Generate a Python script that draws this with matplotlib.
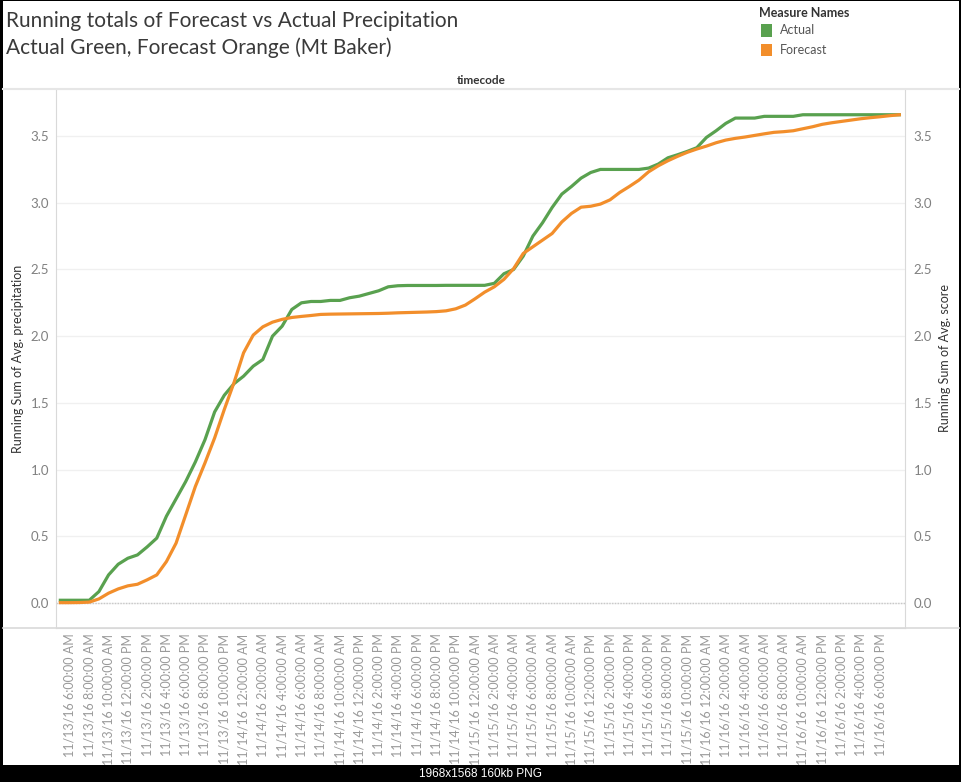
import numpy as np
import pandas as pd
import matplotlib
matplotlib.use("Agg")
import matplotlib.pyplot as plt
import matplotlib.dates as mdates
from matplotlib.patches import Rectangle
from matplotlib.lines import Line2D

plt.rcParams['font.family'] = ['Lato', 'DejaVu Sans']

# hourly timecodes, 11/13/16 5 AM .. 11/16/16 8 PM
times = pd.date_range("2016-11-13 05:00", "2016-11-16 20:00", freq="h")

actual = [0.02, 0.02, 0.02, 0.02, 0.085, 0.21, 0.29, 0.335, 0.36, 0.42,
          0.486, 0.65, 0.78, 0.91, 1.057, 1.224, 1.432, 1.557, 1.643, 1.70,
          1.775, 1.825, 2.0, 2.075, 2.20, 2.25, 2.26, 2.26, 2.268, 2.268,
          2.288, 2.30, 2.32, 2.34, 2.37, 2.378, 2.38, 2.38, 2.38, 2.38,
          2.381, 2.381, 2.381, 2.381, 2.381, 2.396, 2.468, 2.50, 2.60, 2.75,
          2.85, 2.965, 3.065, 3.122, 3.185, 3.227, 3.25, 3.25, 3.25, 3.25,
          3.25, 3.26, 3.29, 3.337, 3.36, 3.385, 3.413, 3.49, 3.54, 3.595,
          3.635, 3.635, 3.635, 3.648, 3.648, 3.648, 3.648, 3.66, 3.66, 3.66,
          3.66, 3.66, 3.66, 3.66, 3.66, 3.66, 3.66, 3.66]

forecast = [0.002, 0.002, 0.003, 0.006, 0.03, 0.073, 0.105, 0.128, 0.14, 0.173,
            0.21, 0.31, 0.448, 0.66, 0.873, 1.05, 1.237, 1.45, 1.65, 1.875,
            2.008, 2.07, 2.105, 2.126, 2.14, 2.148, 2.155, 2.163, 2.165, 2.166,
            2.167, 2.168, 2.169, 2.17, 2.172, 2.175, 2.177, 2.179, 2.181, 2.184,
            2.19, 2.205, 2.233, 2.28, 2.33, 2.37, 2.426, 2.506, 2.62, 2.67,
            2.72, 2.77, 2.856, 2.92, 2.967, 2.974, 2.99, 3.022, 3.077, 3.122,
            3.17, 3.232, 3.277, 3.315, 3.348, 3.378, 3.403, 3.425, 3.45, 3.47,
            3.483, 3.493, 3.505, 3.517, 3.528, 3.533, 3.54, 3.555, 3.57, 3.588,
            3.60, 3.61, 3.62, 3.63, 3.638, 3.645, 3.653, 3.66]

tick_times = pd.date_range("2016-11-13 06:00", "2016-11-16 18:00", freq="2h")
tick_labels = [t.strftime("%m/%d/%y %-I:%M:%S %p") for t in tick_times]
y_ticks = [0.0, 0.5, 1.0, 1.5, 2.0, 2.5, 3.0, 3.5]

W, H = 962, 782
fig = plt.figure(figsize=(W / 100, H / 100), dpi=100, facecolor="black")

# white canvas inside black frame
fig.add_artist(Rectangle((3 / W, 1 - 765 / H), 956 / W, 764 / H,
                         transform=fig.transFigure, facecolor="white",
                         edgecolor="none", zorder=0))

ax = fig.add_axes([56 / W, 1 - 628 / H, (905.5 - 56) / W, (628 - 89) / H])
ax.set_facecolor("white")

x0 = mdates.date2num(times[0].to_pydatetime())
x1 = mdates.date2num(times[-1].to_pydatetime())
hour = 1 / 24
ax.plot(times, actual, color="#59A14F", lw=2.3, solid_joinstyle="round", zorder=3)
ax.plot(times, forecast, color="#F28E2B", lw=2.3, solid_joinstyle="round", zorder=4)
ax.set_xlim(x0 - 0.45 * hour, x1 + 0.64 * hour)
ax.set_ylim(-0.188, 3.853)

ax.set_yticks(y_ticks)
ax.set_yticklabels([f"{v:.1f}" for v in y_ticks])
ax.grid(axis="y", color="#f0f0f0", lw=1)
ax.axhline(0, color="#c8c8c8", lw=1, ls=(0, (1, 1)), zorder=2)
ax.set_xticks([mdates.date2num(t.to_pydatetime()) for t in tick_times])
ax.set_xticklabels(tick_labels, rotation=90, va="top", ha="center")
ax.tick_params(axis="x", length=0, pad=4, labelsize=9, labelcolor="#9a9a9a")
ax.tick_params(axis="y", length=0, pad=5, labelsize=9.5, labelcolor="#808080")
for s in ax.spines.values():
    s.set_color("#d9d9d9")
ax.spines["top"].set_color("#e6e6e6")
ax.set_ylabel("Running Sum of Avg. precipitation", fontsize=9, color="#333333")
ax.yaxis.set_label_coords((24 - 56) / 849.5, 0.5)

ax2 = ax.twinx()
ax2.set_ylim(ax.get_ylim())
ax2.set_yticks(y_ticks)
ax2.set_yticklabels([f"{v:.1f}" for v in y_ticks])
ax2.tick_params(axis="y", length=0, pad=6, labelsize=9.5, labelcolor="#808080")
for s in ax2.spines.values():
    s.set_visible(False)
ax2.set_ylabel("Running Sum of Avg. score", fontsize=9, color="#333333")
ax2.yaxis.set_label_coords((939 - 56) / 849.5, 0.5)

# header / footer separators
fig.add_artist(Line2D([3 / W, 959 / W], [1 - 88.5 / H] * 2, color="#e6e6e6",
                      lw=1.5, transform=fig.transFigure))
fig.add_artist(Line2D([3 / W, 959 / W], [1 - 628 / H] * 2, color="#d9d9d9",
                      lw=1.2, transform=fig.transFigure))

fig.text(6 / W, 1 - 21 / H, "Running totals of Forecast vs Actual Precipitation",
         fontsize=15, color="#3a3a3a", va="center", ha="left")
fig.text(6 / W, 1 - 48 / H, "Actual Green, Forecast Orange (Mt Baker)",
         fontsize=15, color="#3a3a3a", va="center", ha="left")
fig.text(481 / W, 1 - 80 / H, "timecode", fontsize=8.5, color="#333333",
         fontweight="bold", va="center", ha="center")

# legend
fig.text(759 / W, 1 - 13 / H, "Measure Names", fontsize=9, color="#333333",
         fontweight="bold", va="center", ha="left")
for i, (name, col) in enumerate([("Actual", "#59A14F"), ("Forecast", "#F28E2B")]):
    yc = 30.5 + i * 19.5
    fig.add_artist(Rectangle((761 / W, 1 - (yc + 6) / H), 11 / W, 12 / H,
                             transform=fig.transFigure, facecolor=col,
                             edgecolor="none"))
    fig.text(780 / W, 1 - yc / H, name, fontsize=9, color="#555555",
             va="center", ha="left")

fig.text(481 / W, 1 - 774 / H, "1968x1568 160kb PNG", fontsize=8.5,
         color="white", va="center", ha="center", family="Liberation Sans")

fig.savefig("out.png", dpi=100, facecolor=fig.get_facecolor())
